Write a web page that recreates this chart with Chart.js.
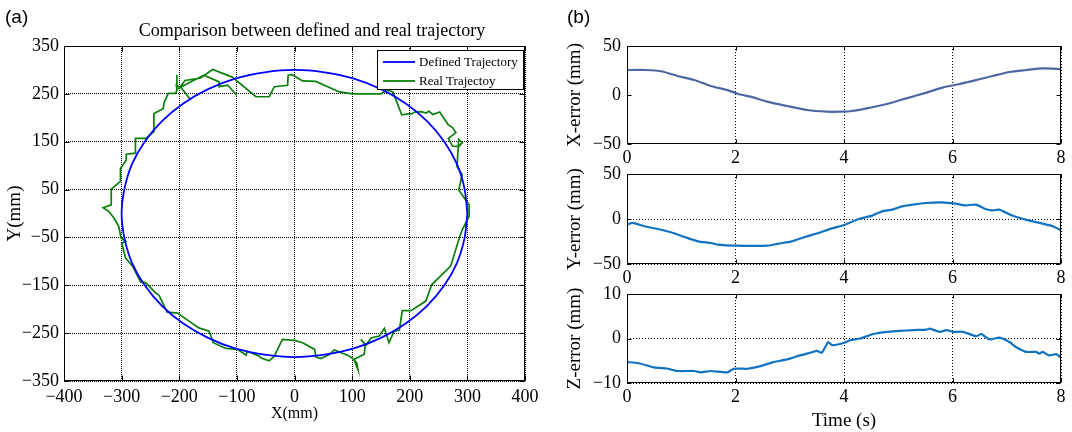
<!DOCTYPE html>
<html><head><meta charset="utf-8">
<script src="https://cdn.jsdelivr.net/npm/chart.js@4.4.1/dist/chart.umd.min.js"></script>
<style>
html,body{margin:0;padding:0;background:#fff;}
#wrap{position:relative;width:1072px;height:432px;overflow:hidden;background:#fff;}
canvas{position:absolute;}
.lab{position:absolute;font-family:"Liberation Sans",Arial,sans-serif;font-size:19px;color:#000;line-height:22px;}
</style></head><body>
<div id="wrap">
<canvas id="c0" width="624" height="432" style="left:0;top:0"></canvas>
<canvas id="c1" width="512" height="170" style="left:560px;top:0"></canvas>
<canvas id="c2" width="512" height="142" style="left:560px;top:150px"></canvas>
<canvas id="c3" width="512" height="162" style="left:560px;top:270px"></canvas>
<div class="lab" style="left:5px;top:6px">(a)</div>
<div class="lab" style="left:567px;top:6px">(b)</div>
</div>
<script>
// ---- Data: panel (a) ----
const defX = [300,295,282,260,230,193,150,103,52,0,-52,-103,-150,-193,-230,-260,-282,-295,-300,-295,-282,-260,-230,-193,-150,-103,-52,0,52,103,150,193,230,260,282,295,300];
const defY = [0,52,103,150,193,230,260,282,295,300,295,282,260,230,193,150,103,52,0,-52,-103,-150,-193,-230,-260,-282,-295,-300,-295,-282,-260,-230,-193,-150,-103,-52,0];
const realX = [-180,-196,-205,-204,-204,-206,-219,-226,-228,-244,-244,-258,-276,-276,-292,-292,-302,-302,-318,-318,-332,-322,-313,-305,-301,-293,-300,-293,-281,-267,-258,-241,-235,-221,-203,-183,-166,-148,-141,-119,-99,-84,-82,-61,-58,-44,-35,-21,0,14,35,37,46,61,69,92,101,108,110,103,121,123,115,124,133,147,156,164,173,182,187,202,228,238,271,286,291,303,303,285,291,282,285,291,285,274,267,280,274,267,258,252,240,233,229,220,209,203,198,186,180,174,171,160,150,101,78,37,14,-4,-11,-12,-35,-44,-67,-108,-142,-163,-190,-200,-185,-157,-131,-131,-116,-100];
const realY = [237,262,268,290,258,251,251,233,219,209,171,157,157,126,124,112,94,67,51,18,12,4,-10,-27,-51,-58,-62,-93,-110,-143,-145,-166,-171,-206,-208,-225,-239,-246,-270,-282,-284,-296,-288,-298,-302,-308,-298,-263,-265,-270,-284,-300,-303,-294,-285,-296,-303,-312,-326,-305,-294,-274,-263,-275,-260,-256,-240,-270,-246,-244,-203,-203,-183,-149,-110,-51,-34,-6,18,49,81,98,155,148,140,141,157,169,180,185,201,212,207,214,210,213,212,208,208,206,225,244,254,258,250,250,254,276,277,290,289,268,265,244,244,285,301,283,278,262,272,289,275,265,268,247];
const xTicksA = [-400,-300,-200,-100,0,100,200,300,400];
const yTicksA = [-350,-250,-150,-50,50,150,250,350];
// ---- Data: panel (b) ----
const tX = [0,0.35,0.65,0.93,1.24,1.54,1.85,2.07,2.28,2.58,2.95,3.32,3.68,3.93,4.15,4.42,4.79,5.15,5.52,5.83,6.13,6.44,6.74,7.05,7.36,7.66,8];
const xErr = [25.5,25.5,24,19.4,15.3,9.2,5,0.7,-1.7,-6.8,-11.2,-15.3,-17,-17,-16.3,-13.6,-9.2,-3.4,2.4,7.8,11.2,15.3,19.4,23.5,25.5,27.2,26.5];
const tY = [0,0.1,0.32,0.57,0.81,1.06,1.31,1.55,1.68,1.99,2.6,2.79,3.04,3.28,3.53,3.78,4.02,4.27,4.52,4.7,4.89,5.07,5.26,5.5,5.81,6.06,6.24,6.43,6.61,6.74,6.86,7.11,7.35,7.66,7.85,8];
const yErr = [-6.3,-4.4,-8.1,-11.1,-14.8,-20,-24.8,-26.7,-28.5,-29.6,-29.6,-27.4,-24.8,-20,-15.6,-10.4,-6.3,0,3.7,8.5,10.4,14.1,15.9,17.8,18.5,17,15.2,15.9,11.1,9.6,10.4,3.7,-0.7,-5.2,-8.1,-12.6];
const tZ = [0,0.2,0.5,0.75,0.93,1.24,1.36,1.54,1.85,1.97,2.22,2.46,2.7,2.95,3.19,3.38,3.5,3.59,3.71,3.78,3.99,4.11,4.3,4.54,4.79,5.03,5.28,5.52,5.58,5.77,5.89,6.01,6.19,6.44,6.53,6.68,6.87,7.05,7.17,7.36,7.54,7.6,7.66,7.78,7.91,8];
const zErr = [-5.3,-5.5,-6.5,-6.8,-7.3,-7.3,-7.6,-7.3,-7.6,-6.8,-6.8,-6.2,-5.3,-4.7,-3.8,-3.2,-2.8,-3.2,-0.8,-1.5,-1,-0.4,0,1,1.5,1.7,1.9,2,2.2,1.5,1.9,1.5,1.5,0.5,1,-0.2,0.2,-0.8,-1.9,-3,-3,-3.4,-3,-3.8,-3.5,-4.3];
const timeTicks = [0,2,4,6,8];

const serif = "'Liberation Serif','Times New Roman',serif";
const fmt = v => (v < 0 ? '\u2212' + Math.abs(v) : String(v));
const pts = (xs, ys) => xs.map((x, i) => ({x: x, y: ys[i]}));

const frame = {
  id: 'frame',
  afterDraw(chart, args, opts) {
    const {ctx, chartArea: a, scales} = chart;
    const L = Math.round(a.left) + 0.5, R = Math.round(a.right) - 0.5;
    const T = Math.round(a.top) + 0.5, B = Math.round(a.bottom) - 0.5;
    const tl = opts.tick || 4;
    ctx.save();
    ctx.strokeStyle = '#000'; ctx.lineWidth = 1; ctx.setLineDash([]);
    ctx.strokeRect(L, T, R - L, B - T);
    ctx.beginPath();
    scales.x.ticks.forEach(t => { const p = Math.round(scales.x.getPixelForValue(t.value)) + 0.5;
      ctx.moveTo(p, B); ctx.lineTo(p, B - tl); ctx.moveTo(p, T); ctx.lineTo(p, T + tl); });
    scales.y.ticks.forEach(t => { const p = Math.round(scales.y.getPixelForValue(t.value)) + 0.5;
      ctx.moveTo(L, p); ctx.lineTo(L + tl, p); ctx.moveTo(R, p); ctx.lineTo(R - tl, p); });
    ctx.stroke();
    ctx.restore();
  }
};

const boxLegend = {
  id: 'boxLegend',
  afterDraw(chart, args, o) {
    if (!o || !o.width) return;
    const {ctx, chartArea: a} = chart;
    const w = o.width, h = o.height, x = Math.round(a.right) - 1 - w, y = Math.round(a.top) + 4;
    ctx.save();
    ctx.fillStyle = '#fff'; ctx.fillRect(x, y, w, h);
    ctx.strokeStyle = '#000'; ctx.lineWidth = 1; ctx.strokeRect(x + 0.5, y + 0.5, w - 1, h - 1);
    ctx.font = '13px ' + serif; ctx.textBaseline = 'middle'; ctx.fillStyle = '#000';
    chart.data.datasets.forEach((ds, i) => {
      const ly = y + 12 + i * 19;
      ctx.strokeStyle = ds.borderColor; ctx.lineWidth = 1.8;
      ctx.beginPath(); ctx.moveTo(x + 6, ly); ctx.lineTo(x + 38, ly); ctx.stroke();
      ctx.fillText(ds.label, x + 42, ly + 1);
    });
    ctx.restore();
  }
};

Chart.defaults.font.family = serif;
Chart.defaults.color = '#000';

function axisTicks(list) {
  return function (scale) { scale.ticks = list.map(v => ({value: v})); };
}

// ---- Panel (a) ----
new Chart(document.getElementById('c0'), {
  type: 'scatter',
  data: {datasets: [
    {label: 'Defined Trajectory', data: pts(defX, defY), showLine: true, borderColor: '#0000ff', borderWidth: 1.8, pointRadius: 0, tension: 0.3, fill: false},
    {label: 'Real Trajectoy', data: pts(realX, realY), showLine: true, borderColor: '#0a7f0a', borderWidth: 1.7, pointRadius: 0, tension: 0, fill: false}
  ]},
  options: {
    responsive: false, animation: false, events: [],
    layout: {padding: 0},
    plugins: {
      legend: {display: false}, tooltip: {enabled: false},
      title: {display: true, text: 'Comparison between defined and real trajectory', color: '#000',
        font: {family: serif, size: 18, weight: 'normal'}, padding: {top: 20, bottom: 4.4}},
      frame: {tick: 5},
      boxLegend: {width: 147, height: 40}
    },
    scales: {
      x: {type: 'linear', position: 'bottom', min: -400, max: 400,
        afterBuildTicks: axisTicks(xTicksA),
        ticks: {autoSkip: false, maxRotation: 0, padding: 5.5, color: '#000', font: {family: serif, size: 18}, callback: fmt},
        grid: {color: '#000', lineWidth: 1, drawTicks: false},
        border: {display: false, dash: [1, 1]},
        title: {display: true, text: 'X(mm)', color: '#000', font: {family: serif, size: 16}, padding: {top: 0, bottom: 9}},
        afterFit: s => { s.height = 51; }},
      y: {type: 'linear', position: 'left', min: -350, max: 350,
        afterBuildTicks: axisTicks(yTicksA),
        ticks: {autoSkip: false, padding: 5, color: '#000', font: {family: serif, size: 18}, callback: fmt},
        grid: {color: '#000', lineWidth: 1, drawTicks: false},
        border: {display: false, dash: [1, 1]},
        title: {display: true, text: 'Y(mm)', color: '#000', font: {family: serif, size: 19}, padding: {top: 4, bottom: 0}},
        afterFit: s => { s.width = 64; }},
      yR: {type: 'linear', position: 'right', display: true,
        ticks: {display: false}, grid: {display: false, drawTicks: false}, border: {display: false},
        afterFit: s => { s.width = 99; }}
    }
  },
  plugins: [frame, boxLegend]
});

// ---- Panel (b) ----
function errChart(id, t, v, color, yMin, yMax, yTicks, yTitle, padTop, xHeight, showYGrid, xTitle) {
  const xScale = {type: 'linear', position: 'bottom', min: 0, max: 8,
    afterBuildTicks: axisTicks(timeTicks),
    ticks: {autoSkip: false, maxRotation: 0, padding: 3, color: '#000', font: {family: serif, size: 18}, callback: fmt},
    grid: {color: '#000', lineWidth: 1, drawTicks: false},
    border: {display: false, dash: [1, 2]},
    afterFit: s => { s.height = xHeight; }};
  if (xTitle) xScale.title = {display: true, text: xTitle, color: '#000', font: {family: serif, size: 19}, padding: {top: 0, bottom: 0}};
  return new Chart(document.getElementById(id), {
    type: 'scatter',
    data: {datasets: [{label: yTitle, data: pts(t, v), showLine: true, borderColor: color, borderWidth: 2.2, pointRadius: 0, tension: 0.2, fill: false}]},
    options: {
      responsive: false, animation: false, events: [],
      layout: {padding: {left: 0, right: 11, top: padTop, bottom: 0}},
      plugins: {legend: {display: false}, tooltip: {enabled: false}, title: {display: false}, frame: {tick: 4}},
      scales: {
        x: xScale,
        y: {type: 'linear', position: 'left', min: yMin, max: yMax,
          afterBuildTicks: axisTicks(yTicks),
          ticks: {autoSkip: false, padding: 6, color: '#000', font: {family: serif, size: 18}, callback: fmt},
          grid: {display: showYGrid, color: '#000', lineWidth: 1, drawTicks: false},
          border: {display: false, dash: [1, 2]},
          title: {display: true, text: yTitle, color: '#000', font: {family: serif, size: 19}, padding: {top: 4, bottom: 0}},
          afterFit: s => { s.width = 67; }}
      }
    },
    plugins: [frame]
  });
}

errChart('c1', tX, xErr, '#4d67a3', -50, 50, [-50, 0, 50], 'X-error (mm)', 46, 26, false, null);
errChart('c2', tY, yErr, '#1273c0', -50, 50, [-50, 0, 50], 'Y-error (mm)', 24, 28, true, null);
errChart('c3', tZ, zErr, '#1273c0', -10, 10, [-10, 0, 10], 'Z-error (mm)', 24, 49, true, 'Time (s)');
</script>
</body></html>
